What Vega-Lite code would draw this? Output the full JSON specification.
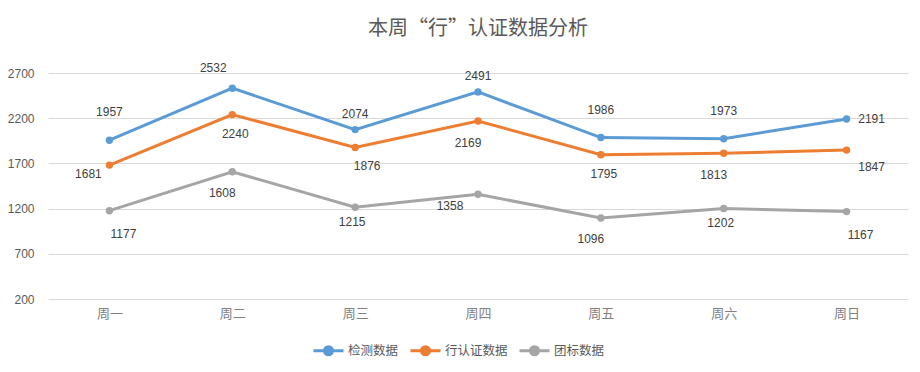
{
  "$schema": "https://vega.github.io/schema/vega-lite/v6.json",
  "width": 860,
  "height": 226,
  "autosize": {"type": "none"},
  "padding": {"left": 48, "top": 73, "right": 12, "bottom": 73},
  "background": "white",
  "title": {
    "text": "本周“行”认证数据分析",
    "font": "Noto Sans CJK SC",
    "fontSize": 20,
    "fontWeight": "normal",
    "color": "#595959",
    "anchor": "middle",
    "offset": 23
  },
  "config": {
    "view": {"stroke": null},
    "text": {"font": "Liberation Sans", "fontSize": 12, "color": "#404040", "baseline": "middle", "align": "center"}
  },
  "data": {
    "values": [
      {"day": "周一", "series": "检测数据", "value": 1957},
      {"day": "周二", "series": "检测数据", "value": 2532},
      {"day": "周三", "series": "检测数据", "value": 2074},
      {"day": "周四", "series": "检测数据", "value": 2491},
      {"day": "周五", "series": "检测数据", "value": 1986},
      {"day": "周六", "series": "检测数据", "value": 1973},
      {"day": "周日", "series": "检测数据", "value": 2191},
      {"day": "周一", "series": "行认证数据", "value": 1681},
      {"day": "周二", "series": "行认证数据", "value": 2240},
      {"day": "周三", "series": "行认证数据", "value": 1876},
      {"day": "周四", "series": "行认证数据", "value": 2169},
      {"day": "周五", "series": "行认证数据", "value": 1795},
      {"day": "周六", "series": "行认证数据", "value": 1813},
      {"day": "周日", "series": "行认证数据", "value": 1847},
      {"day": "周一", "series": "团标数据", "value": 1177},
      {"day": "周二", "series": "团标数据", "value": 1608},
      {"day": "周三", "series": "团标数据", "value": 1215},
      {"day": "周四", "series": "团标数据", "value": 1358},
      {"day": "周五", "series": "团标数据", "value": 1096},
      {"day": "周六", "series": "团标数据", "value": 1202},
      {"day": "周日", "series": "团标数据", "value": 1167}
    ]
  },
  "encoding": {
    "x": {
      "field": "day",
      "type": "nominal",
      "sort": ["周一", "周二", "周三", "周四", "周五", "周六", "周日"],
      "scale": {"type": "point", "padding": 0.5},
      "axis": {
        "title": null,
        "labelAngle": 0,
        "domain": false,
        "ticks": false,
        "grid": false,
        "labelColor": "#808080",
        "labelFont": "Noto Sans CJK SC",
        "labelFontSize": 13,
        "labelPadding": 8
      }
    },
    "y": {
      "field": "value",
      "type": "quantitative",
      "scale": {"domain": [200, 2700], "nice": false, "zero": false},
      "axis": {
        "title": null,
        "format": "d",
        "domain": false,
        "ticks": false,
        "grid": true,
        "gridColor": "#d9d9d9",
        "gridWidth": 1,
        "values": [200, 700, 1200, 1700, 2200, 2700],
        "labelFont": "Liberation Sans",
        "labelFontSize": 12,
        "labelColor": "#595959",
        "labelPadding": 14
      }
    }
  },
  "layer": [
    {
      "mark": {"type": "line", "strokeWidth": 3},
      "encoding": {
        "color": {
          "field": "series",
          "type": "nominal",
          "scale": {"domain": ["检测数据", "行认证数据", "团标数据"], "range": ["#5B9BD5", "#ED7D31", "#A5A5A5"]},
          "legend": {
            "title": null,
            "orient": "none",
            "legendX": 264,
            "legendY": 261,
            "direction": "horizontal",
            "columns": 3,
            "symbolType": "M-1,0L1,0M0.27,0A0.27,0.27,0,1,1,-0.27,0A0.27,0.27,0,1,1,0.27,0",
            "symbolSize": 900,
            "symbolStrokeWidth": 3,
            "labelFont": "Noto Sans CJK SC",
            "labelFontSize": 12.5,
            "labelColor": "#595959",
            "labelOffset": 3,
            "columnPadding": 5,
            "encode": {"symbols": {"update": {"fill": {"scale": "color", "field": "value"}}}}
          }
        }
      }
    },
    {
      "mark": {"type": "point", "filled": true, "size": 55, "opacity": 1},
      "encoding": {"color": {"field": "series", "type": "nominal"}}
    },
    {
      "transform": [{"filter": "datum.series == '检测数据' && indexof(['周一','周五','周六'], datum.day) >= 0"}],
      "mark": {"type": "text", "dy": -28},
      "encoding": {"text": {"field": "value"}}
    },
    {
      "transform": [{"filter": "datum.series == '检测数据' && indexof(['周三','周四'], datum.day) >= 0"}],
      "mark": {"type": "text", "dy": -16},
      "encoding": {"text": {"field": "value"}}
    },
    {
      "transform": [{"filter": "datum.series == '检测数据' && datum.day == '周二'"}],
      "mark": {"type": "text", "dx": -19, "dy": -20},
      "encoding": {"text": {"field": "value"}}
    },
    {
      "transform": [{"filter": "datum.series == '检测数据' && datum.day == '周日'"}],
      "mark": {"type": "text", "dx": 25, "dy": 0},
      "encoding": {"text": {"field": "value"}}
    },
    {
      "transform": [{"filter": "datum.series == '行认证数据' && indexof(['周二','周五'], datum.day) >= 0"}],
      "mark": {"type": "text", "dx": 3, "dy": 19},
      "encoding": {"text": {"field": "value"}}
    },
    {
      "transform": [{"filter": "datum.series == '行认证数据' && indexof(['周四','周六'], datum.day) >= 0"}],
      "mark": {"type": "text", "dx": -10, "dy": 22},
      "encoding": {"text": {"field": "value"}}
    },
    {
      "transform": [{"filter": "datum.series == '行认证数据' && datum.day == '周三'"}],
      "mark": {"type": "text", "dx": 12, "dy": 19},
      "encoding": {"text": {"field": "value"}}
    },
    {
      "transform": [{"filter": "datum.series == '行认证数据' && datum.day == '周一'"}],
      "mark": {"type": "text", "dx": -21, "dy": 9},
      "encoding": {"text": {"field": "value"}}
    },
    {
      "transform": [{"filter": "datum.series == '行认证数据' && datum.day == '周日'"}],
      "mark": {"type": "text", "dx": 25, "dy": 17},
      "encoding": {"text": {"field": "value"}}
    },
    {
      "transform": [{"filter": "datum.series == '团标数据' && indexof(['周三','周六'], datum.day) >= 0"}],
      "mark": {"type": "text", "dx": -3, "dy": 15},
      "encoding": {"text": {"field": "value"}}
    },
    {
      "transform": [{"filter": "datum.series == '团标数据' && indexof(['周二','周五'], datum.day) >= 0"}],
      "mark": {"type": "text", "dx": -10, "dy": 21},
      "encoding": {"text": {"field": "value"}}
    },
    {
      "transform": [{"filter": "datum.series == '团标数据' && datum.day == '周四'"}],
      "mark": {"type": "text", "dx": -28, "dy": 12},
      "encoding": {"text": {"field": "value"}}
    },
    {
      "transform": [{"filter": "datum.series == '团标数据' && indexof(['周一','周日'], datum.day) >= 0"}],
      "mark": {"type": "text", "dx": 14, "dy": 23},
      "encoding": {"text": {"field": "value"}}
    }
  ]
}
